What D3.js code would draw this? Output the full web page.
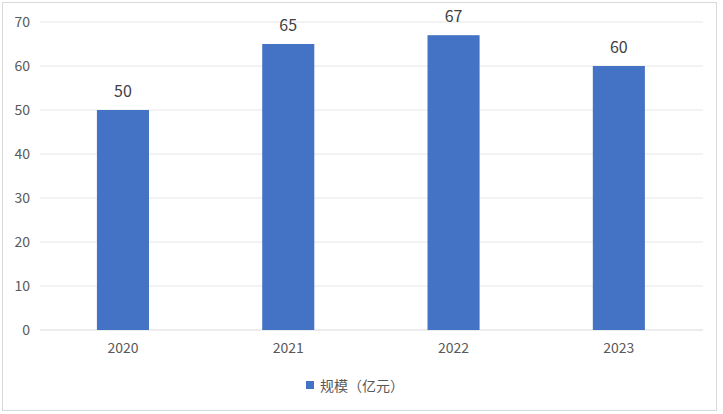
<!DOCTYPE html>
<html><head><meta charset="utf-8">
<script src="https://cdn.jsdelivr.net/npm/d3@7"></script>
<style>body{margin:0;background:#fff}</style>
</head><body>
<svg id="c" width="723" height="414"></svg>
<script>
const categories = ["2020","2021","2022","2023"];
const values = [50,65,67,60];
const yTicks = [0,10,20,30,40,50,60,70];
const seriesName = "规模（亿元）";

const svg = d3.select("#c");
const font = "'Microsoft YaHei','Noto Sans CJK SC','Noto Sans',sans-serif";
svg.append("rect").attr("x",2.5).attr("y",2.5).attr("width",714).attr("height",408)
  .attr("fill","#fff").attr("stroke","#d9d9d9");

const x = d3.scaleBand().domain(categories).range([40.3,701.5]).paddingInner(0.685).paddingOuter(0.3425);
const y = d3.scaleLinear().domain([0,70]).range([330,22]);

const g = svg.append("g");
g.selectAll("line.grid").data(yTicks).join("line")
  .attr("x1",40).attr("x2",703).attr("y1",d=>y(d)).attr("y2",d=>y(d))
  .attr("stroke",d=>d===0?"#d9d9d9":"#e6e6e6").attr("stroke-width",1);

const yAxis = svg.append("g").attr("transform","translate(30,0)")
  .call(d3.axisLeft(y).tickValues(yTicks).tickSize(0).tickPadding(0));
yAxis.select(".domain").remove();
yAxis.selectAll("text").attr("font-family",font).attr("font-size",14).attr("fill","#595959");

const xAxis = svg.append("g").attr("transform","translate(0,343)")
  .call(d3.axisBottom(x).tickSize(0).tickPadding(0));
xAxis.select(".domain").remove();
xAxis.selectAll("text").attr("font-family",font).attr("font-size",14).attr("fill","#595959");

g.selectAll("rect.bar").data(values).join("rect")
  .attr("x",(d,i)=>x(categories[i])).attr("width",x.bandwidth())
  .attr("y",d=>y(d)).attr("height",d=>y(0)-y(d)).attr("fill","#4472C4");

g.selectAll("text.val").data(values).join("text")
  .attr("x",(d,i)=>x(categories[i])+x.bandwidth()/2).attr("y",d=>y(d)-13)
  .attr("text-anchor","middle").attr("font-family",font).attr("font-size",16).attr("fill","#404040")
  .text(d=>d);

const lg = svg.append("g");
lg.append("rect").attr("x",306).attr("y",381).attr("width",8).attr("height",8).attr("fill","#4472C4");
lg.append("text").attr("x",320).attr("y",390.5).attr("font-family",font).attr("font-size",14)
  .attr("fill","#595959").text(seriesName);
</script>
</body></html>
